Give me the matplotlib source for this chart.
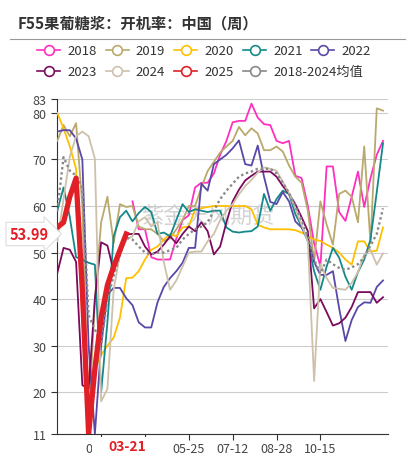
import numpy as np
import matplotlib
matplotlib.use('Agg')
import matplotlib.pyplot as plt
from matplotlib.lines import Line2D
from matplotlib.patches import Rectangle

plt.rcParams['font.family'] = ['Noto Sans CJK SC', 'DejaVu Sans']

# 数据 (按周, 0..52)
years = ['2018', '2019', '2020', '2021', '2022', '2023', '2024', '2025', '2018-2024均值']
colors = ['#ff2fc0', '#b9a96c', '#ffc000', '#14898a', '#5a48a8', '#7c0a5c', '#cdc1ab', '#e01f26', '#888888']

nan = np.nan
y2018 = [nan]*12 + [61, 55, 55, 49, 48.5, 48.5, 48.5, 53, 57, 58, 64, 65, 65, 67, 71, 74, 78, 78.3,
                    78.3, 82, 79, 77.6, 77.4, 74, 73.5, 74, 66.5, 66, 60, 52, 47, 68.5, 68.5, 58.7,
                    56.8, 62, 67.4, 59.8, 66, 71, 74]
y2019 = [74, 77.4, 75, 77.8, 60, 13, 40, 56.5, 62, 52, 60.4, 59.8, 60, 55.6, 55, 55, 54, 52.5, 53,
         55, 57, 60, 60, 64, 67.5, 69.5, 71.5, 72.8, 74, 77, 75.2, 76.7, 75.6, 72, 72, 72.8, 71.7,
         68.7, 66.3, 65, 59, 48, 61, 56, 51.7, 62.6, 63.3, 62, 56.5, 72.8, 52, 81, 80.5]
y2020 = [80, 76.7, 72.8, 68, 35, 22, 25, 28, 30, 31.7, 36, 44.5, 44.6, 46, 48.5, 50.6, 51.3, 52.8,
         54, 53.5, 55.4, 55.6, 59.3, 59.5, 59.8, 60, 60, 60, 60, 60, 60, 59.3, 56, 55.4, 55, 55, 55,
         55, 54.8, 54.3, 53.5, 52.8, 52.5, 51.7, 51, 50, 48.5, 47.4, 52.4, 52.4, 50.2, 50.4, 55.4]
y2021 = [59, 64, 57.6, 49, 48.5, 47.8, 47.4, 20, 35, 53.5, 57.6, 59, 56.7, 58.5, 59.8, 58.7, 54,
         54.3, 53.5, 57, 60.4, 58.7, 59.3, 59, 58.7, 59, 59, 55.4, 54.5, 54.3, 54.5, 54.6, 55.6, 62.6,
         59, 61.5, 63.3, 62.6, 58.3, 55.6, 52.4, 46, 42, 47, 51, 48.9, 44.8, 42, 45.8, 48.5, 52.8,
         63, 73.5]
y2022 = [76, 76.3, 76.3, 74.5, 70, 30, 11, 30, 41, 42.4, 42.4, 40.2, 38.7, 35, 33.9, 33.9, 39.3,
         42.6, 44.5, 46, 47.8, 51, 51, 64.8, 63.3, 69, 70, 71, 72.4, 74.1, 69, 68.7, 73, 66.3, 60.9,
         60.4, 63, 61, 56.7, 55.4, 53, 48, 45.2, 45.2, 46, 38, 31, 35.5, 38.3, 39.3, 39.2, 42.6, 44]
y2023 = [45.6, 51, 50.6, 48, 21.5, 20.7, 40, 52.2, 51.5, 46, 49.5, 53.9, 54, 54, 51.3, 49.6, 50.2,
         51.7, 53.5, 52, 54, 55.6, 54.6, 56.5, 54.6, 49.6, 51.3, 56.5, 61, 63.5, 65.5, 66.5, 67.4,
         67.4, 67.4, 66.3, 64.3, 62.6, 60.4, 57.6, 54.6, 38, 40, 37.2, 34.3, 34.8, 36, 38.3, 41.5,
         41.5, 41.5, 39.2, 40.4]
y2024 = [52.4, 61.5, 70.6, 75, 76, 75, 70.2, 18, 20.7, 42, 49.6, 52.8, 53.5, 56.7, 57.6, 55.6, 56.5,
         48, 42, 44, 47, 50, 50.2, 50.2, 52.4, 54, 57, 59, 60.4, 62.5, 64.3, 65.6, 67.2, 68.3, 68,
         67.6, 65.2, 62.8, 59.5, 56, 52.4, 22.4, 47.5, 44.5, 42.4, 42.2, 42, 43.5, 45.8, 49.6, 50.6,
         47.4, 49.8]
y2025 = [55.4, 56.5, 62, 66, 42, 11, 25, 36, 43, 47, 50.5, 53.99]
y_avg = [59, 70.5, 67.6, 66.5, 64, 36.5, 33.5, 30.5, 40, 45, 49.6, 53.2, 52.8, 51.3, 50, 49.6, 50,
         50, 50.5, 51, 52.8, 54, 55, 55.6, 56.5, 59, 61.5, 63.3, 64.8, 66.3, 67, 67.4, 68, 68, 68,
         67, 65, 62.8, 60, 57, 53.5, 48.5, 45.5, 48.5, 47.5, 46.7, 46.3, 46.8, 47.5, 49, 51.5, 54,
         59.5]

tick_idx = [7, 14, 21, 28, 35, 42]
tick_lab = ['02-19', '', '05-25', '07-12', '08-28', '10-15']   # 04-07 被指示标签盖住
y_ticks = [11, 20, 30, 40, 50, 60, 70, 80, 83]

series = [y2018, y2019, y2020, y2021, y2022, y2023, y2024, y2025, y_avg]

fig = plt.figure(figsize=(4.15, 4.6), dpi=100)
ax = fig.add_axes([0.1373, 0.0543, 0.7977, 0.7283])

# 水印
ax.text(0.455, 0.65, '紫金天风期货', transform=ax.transAxes, fontsize=16, color='#d3d3d3',
        ha='center', va='center', zorder=0)

for i, (name, vals) in enumerate(zip(years, series)):
    x = np.arange(len(vals))
    if name == '2025':
        ax.plot(x, vals, color=colors[i], lw=3.8, zorder=5, solid_joinstyle='round')
    elif name.startswith('2018-'):
        ax.plot(x, vals, color=colors[i], lw=1.7, ls=(0, (1, 1.2)), zorder=4)
    else:
        ax.plot(x, vals, color=colors[i], lw=1.3, zorder=3)

ax.set_xlim(-0.05, 52.8)
ax.set_ylim(11, 83)
ax.set_yticks(y_ticks)
ax.set_yticklabels([str(t) for t in y_ticks])
ax.set_xticks(tick_idx)
ax.set_xticklabels(tick_lab)
ax.grid(axis='y', color='#cccccc', lw=0.8)
ax.set_axisbelow(True)
for s in ['top', 'right']:
    ax.spines[s].set_visible(False)
ax.spines['left'].set_color('#333333')
ax.spines['bottom'].set_color('#333333')
ax.tick_params(axis='both', labelsize=9, colors='#333333', labelcolor='#444444',
               length=4, width=0.8)
ax.tick_params(axis='x', pad=2)

# 指示标签 (x 轴)
fig.add_artist(Rectangle((92 / 415, 2 / 460), 70 / 415, 20 / 460, transform=fig.transFigure,
                         fc='white', ec='none', zorder=9))
fig.text(127 / 415, 1 - 447 / 460, '03-21', ha='center', va='center', fontsize=10,
         fontweight='bold', color='#e01f26', zorder=10)

# 指示标签 (y 轴)
ax.annotate('53.99', xy=(0, 53.99), xycoords=('axes fraction', 'data'), xytext=(-20, 0),
            textcoords='offset points', ha='center', va='center', fontsize=10.5,
            fontweight='bold', color='#e01f26', zorder=10, annotation_clip=False,
            bbox=dict(boxstyle='rarrow,pad=0.25', fc='white', ec='#dddddd', lw=0.8))

# 标题
fig.text(0.043, 0.95, 'F55果葡糖浆：开机率：中国（周）', fontsize=11, fontweight='bold',
         color='#333333', va='center', ha='left')
fig.add_artist(Line2D([0.024, 0.976], [0.913, 0.913], color='#999999', lw=0.8))

# 图例
col_x = [0.09, 0.255, 0.42, 0.586, 0.75]
row_y = [0.889, 0.843]
for i, name in enumerate(years):
    cx = col_x[i % 5]
    cy = row_y[i // 5]
    fig.add_artist(Line2D([cx, cx + 0.055], [cy, cy], color=colors[i], lw=1.2))
    fig.add_artist(Line2D([cx + 0.0275], [cy], color=colors[i], marker='o', ms=7,
                          mfc='white', mew=1.2))
    fig.text(cx + 0.072, cy, name, fontsize=9.5, color='#333333', va='center', ha='left')

fig.savefig('out.png', dpi=100)
